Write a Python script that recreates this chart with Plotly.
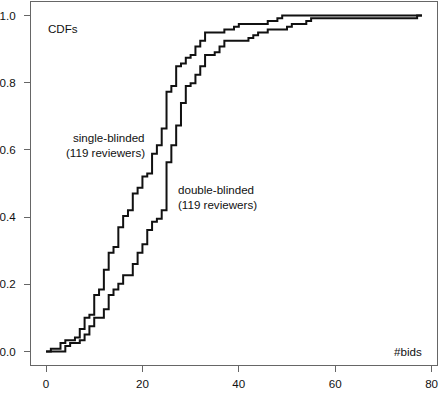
import plotly.graph_objects as go

N_REVIEWERS = 119

# Step locations (#bids) and cumulative reviewer counts for each condition
single_x = [0, 1, 3, 4, 6, 7, 8, 9, 10, 11, 12, 13, 14, 15, 16, 17, 18, 19, 20, 21, 22, 23, 24,
            25, 26, 27, 28, 29, 30, 31, 32, 33, 37, 39, 40, 46, 48, 49, 78]
single_n = [0, 1, 3, 4, 5, 8, 12, 13, 20, 22, 29, 35, 37, 44, 48, 50, 56, 58, 62, 63, 70, 73, 79,
            92, 94, 101, 102, 104, 105, 108, 110, 113, 114, 115, 116, 117, 118, 119, 119]

double_x = [0, 4, 5, 7, 8, 9, 10, 12, 13, 14, 15, 16, 18, 19, 20, 21, 22, 23, 24,
            25, 26, 27, 28, 29, 30, 31, 32, 33, 35, 36, 37, 42, 43, 44, 46, 50, 51, 54, 55, 77, 78]
double_n = [0, 2, 3, 4, 6, 9, 12, 15, 20, 22, 24, 27, 31, 35, 38, 43, 46, 47, 50,
            67, 73, 80, 88, 94, 95, 98, 101, 105, 106, 108, 110, 111, 112, 113, 114, 115, 116, 117, 118, 119, 119]

x_ticks = [0, 20, 40, 60, 80]
y_ticks = [0.0, 0.2, 0.4, 0.6, 0.8, 1.0]
y_tick_labels = ["0.0", "0.2", "0.4", "0.6", "0.8", "1.0"]

FONT = "Liberation Sans, Arial, Helvetica, sans-serif"
FS = 11.6

fig = go.Figure()
for xs, ns in [(single_x, single_n), (double_x, double_n)]:
    fig.add_trace(go.Scatter(
        x=xs, y=[n / N_REVIEWERS for n in ns], mode="lines",
        line=dict(shape="hv", color="#111111", width=2),
        showlegend=False, hoverinfo="skip"))

annos = [
    dict(x=0, y=0.961, text="CDFs", xanchor="left", align="left"),
    dict(x=21.0, y=0.637, text="single-blinded", xanchor="right", align="right"),
    dict(x=21.0, y=0.591, text="(119 reviewers)", xanchor="right", align="right"),
    dict(x=27.0, y=0.481, text="double-blinded", xanchor="left", align="left"),
    dict(x=27.0, y=0.439, text="(119 reviewers)", xanchor="left", align="left"),
    dict(x=78.4, y=0.0, text="#bids", xanchor="right", align="right"),
]
for a in annos:
    fig.add_annotation(xref="x", yref="y", showarrow=False, yanchor="middle",
                       font=dict(family=FONT, size=FS, color="#111111"), **a)

axis_common = dict(showgrid=False, zeroline=False, showline=True, mirror=True,
                   linecolor="#666666", linewidth=1, ticks="outside", ticklen=6,
                   tickcolor="#666666", tickwidth=1, automargin=False,
                   tickfont=dict(family=FONT, size=FS, color="#111111"))

fig.update_xaxes(range=[-3.12, 81.12], tickvals=x_ticks, ticklabelstandoff=2, **axis_common)
fig.update_yaxes(range=[-0.04, 1.04], tickvals=y_ticks, ticktext=y_tick_labels,
                 ticklabelstandoff=6, **axis_common)

fig.update_layout(width=440, height=393, autosize=False,
                  margin=dict(l=31, r=3, t=2, b=28, pad=0),
                  plot_bgcolor="white", paper_bgcolor="white",
                  font=dict(family=FONT, size=FS, color="#111111"))

fig.write_html("out.html", config={"displayModeBar": False},
               post_script="document.body.style.margin='0';document.body.style.padding='0';")
